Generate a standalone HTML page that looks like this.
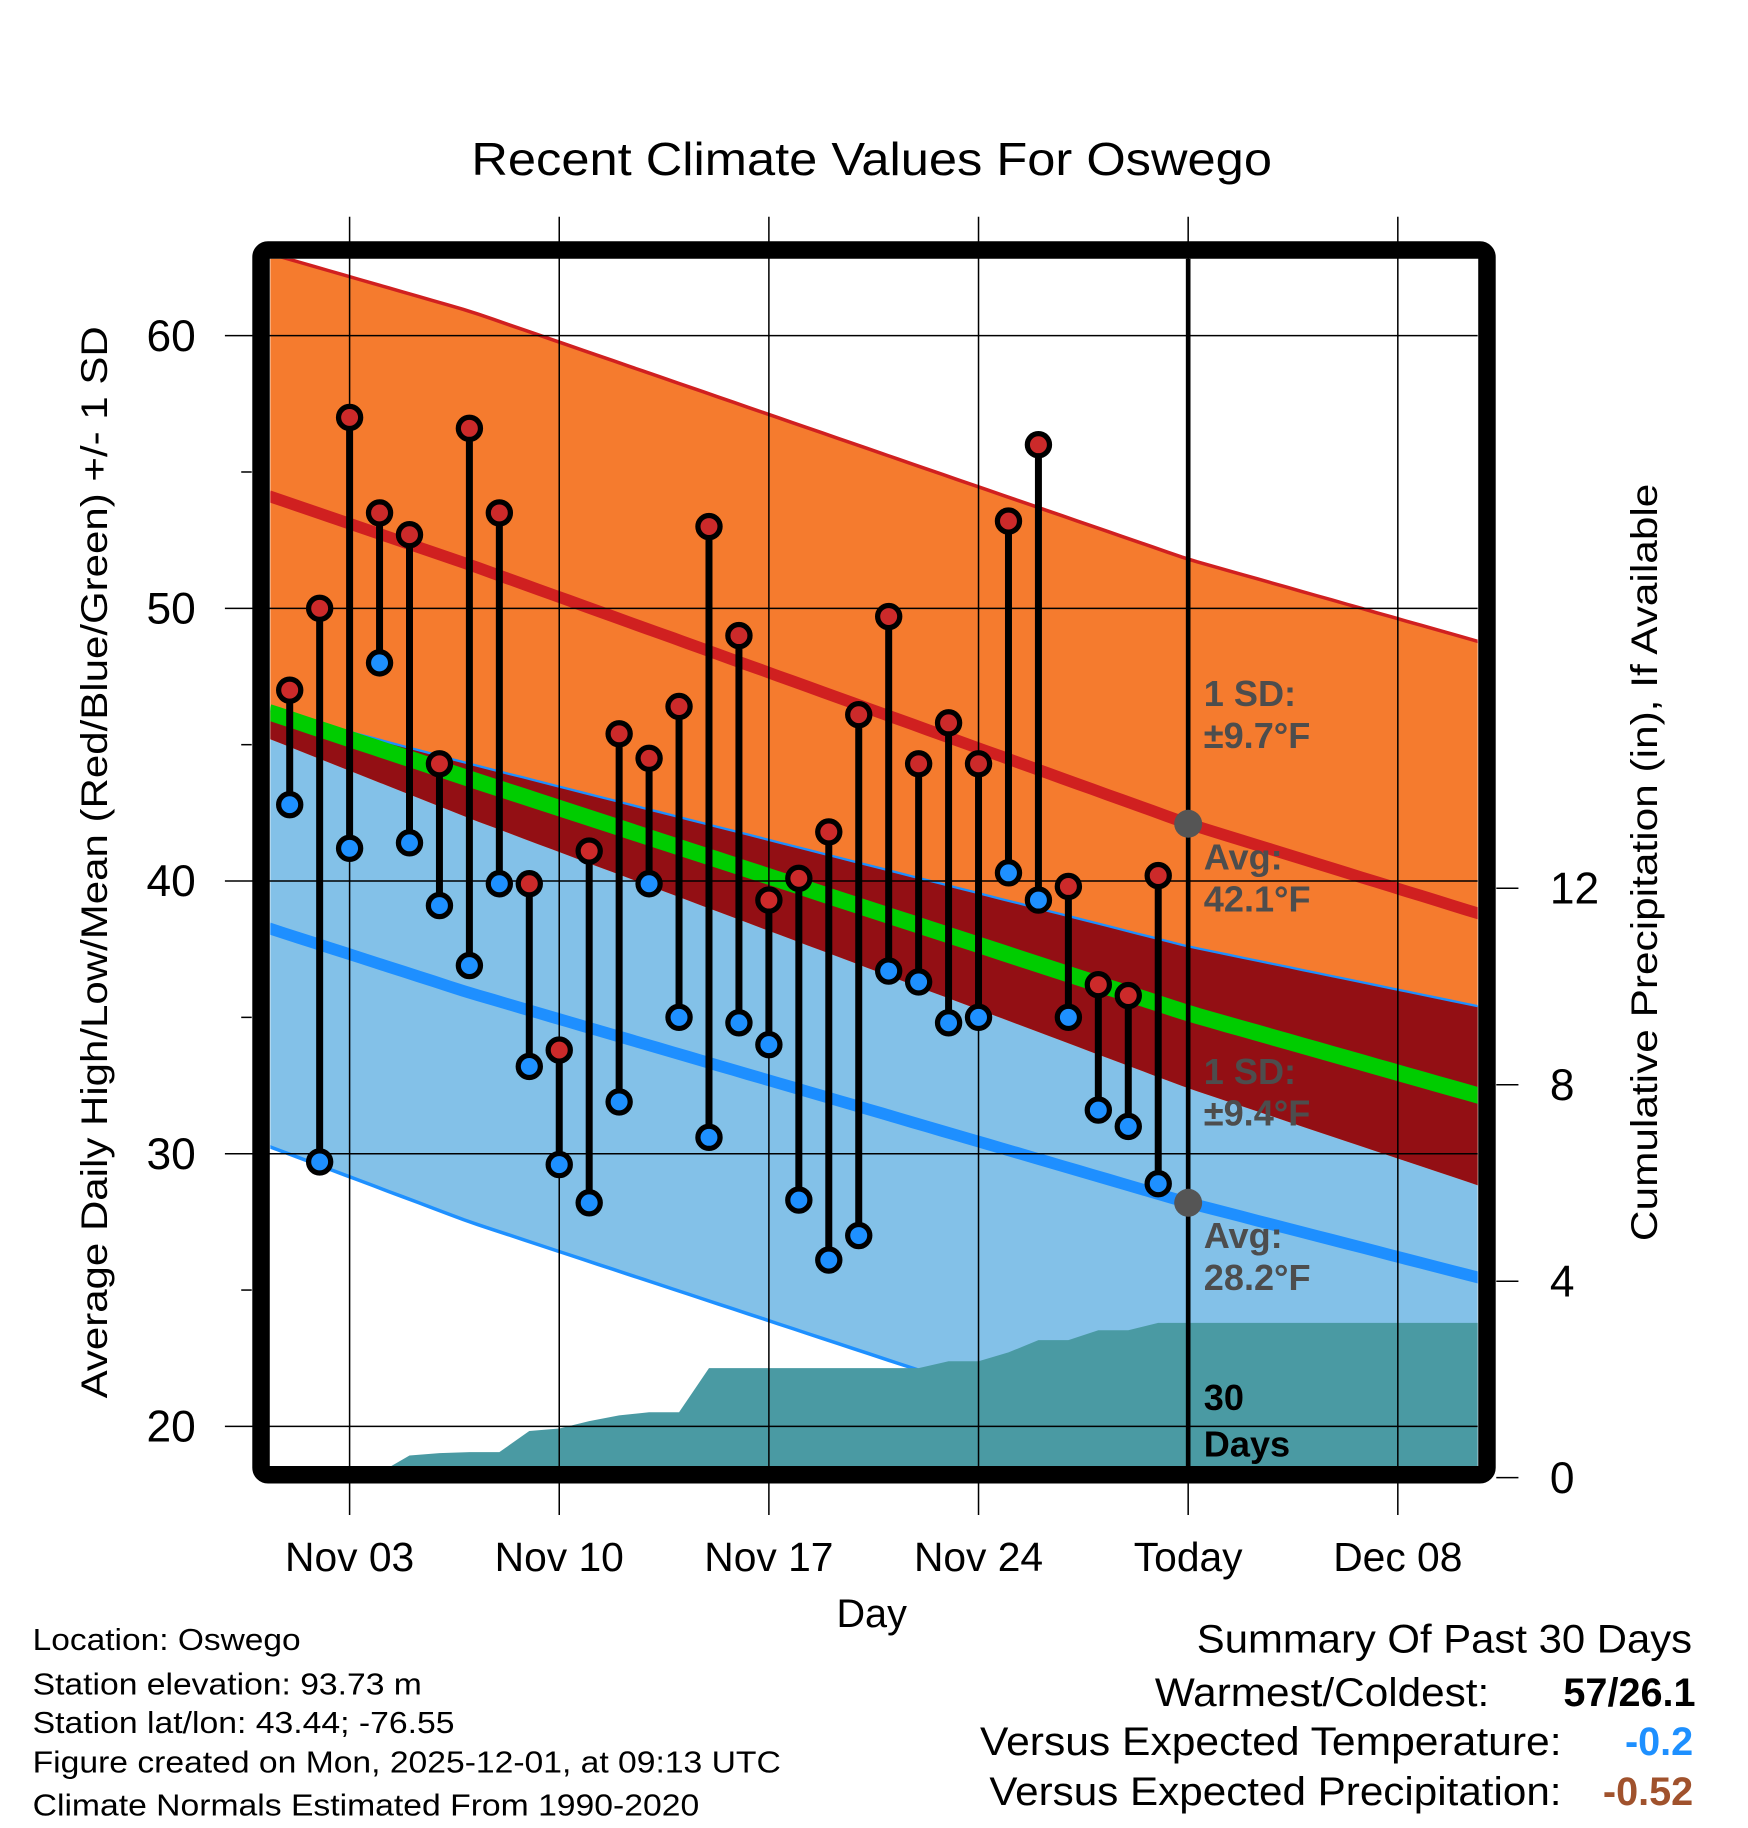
<!DOCTYPE html>
<html><head><meta charset="utf-8"><style>
html,body{margin:0;padding:0;background:#fff;}
svg{display:block;font-family:"Liberation Sans",sans-serif;}
</style></head><body>
<svg id="chart" width="1748" height="1828" viewBox="0 0 1500 1568.6" xmlns="http://www.w3.org/2000/svg">
<defs><clipPath id="plotclip"><rect x="232" y="222" width="1036" height="1036"/></clipPath></defs>
<g id="bands" clip-path="url(#plotclip)"></g>
<g id="precip"></g>
<g id="grid"></g>
<g id="marks"></g>
<g id="annot"></g>
<rect x="224" y="214.5" width="1052" height="1051" rx="6" fill="none" stroke="#000" stroke-width="15"/>
<text x="748" y="150" font-size="40" text-anchor="middle" textLength="687" lengthAdjust="spacingAndGlyphs">Recent Climate Values For Oswego</text>
<text transform="translate(92,740) rotate(-90)" font-size="32" text-anchor="middle" textLength="920" lengthAdjust="spacingAndGlyphs">Average Daily High/Low/Mean (Red/Blue/Green) +/- 1 SD</text>
<text transform="translate(1422,740) rotate(-90)" font-size="32" text-anchor="middle" textLength="650" lengthAdjust="spacingAndGlyphs">Cumulative Precipitation (in), If Available</text>
<text x="748" y="1396" font-size="34" text-anchor="middle">Day</text>
<g font-size="26">
<text x="28" y="1416" textLength="230" lengthAdjust="spacingAndGlyphs">Location: Oswego</text>
<text x="28" y="1454" textLength="334" lengthAdjust="spacingAndGlyphs">Station elevation: 93.73 m</text>
<text x="28" y="1487" textLength="362" lengthAdjust="spacingAndGlyphs">Station lat/lon: 43.44; -76.55</text>
<text x="28" y="1521" textLength="642" lengthAdjust="spacingAndGlyphs">Figure created on Mon, 2025-12-01, at 09:13 UTC</text>
<text x="28" y="1558" textLength="572" lengthAdjust="spacingAndGlyphs">Climate Normals Estimated From 1990-2020</text>
</g>
<g font-size="34">
<text x="1027" y="1418" textLength="425" lengthAdjust="spacingAndGlyphs">Summary Of Past 30 Days</text>
<text x="991" y="1464" textLength="287" lengthAdjust="spacingAndGlyphs">Warmest/Coldest:</text>
<text x="1455" y="1464" text-anchor="end" font-weight="bold">57/26.1</text>
<text x="841" y="1506" textLength="499" lengthAdjust="spacingAndGlyphs">Versus Expected Temperature:</text>
<text x="1453" y="1506" text-anchor="end" font-weight="bold" fill="#1e90ff">-0.2</text>
<text x="849" y="1549" textLength="491" lengthAdjust="spacingAndGlyphs">Versus Expected Precipitation:</text>
<text x="1453" y="1549" text-anchor="end" font-weight="bold" fill="#a0522d">-0.52</text>
</g>
</svg>
<script>
const highs=[47.0,50.0,57.0,53.5,52.7,44.3,56.6,53.5,39.9,33.8,41.1,45.4,44.5,46.4,53.0,49.0,39.3,40.1,41.8,46.1,49.7,44.3,45.8,44.3,53.2,56.0,39.8,36.2,35.8,40.2];
const lows=[42.8,29.7,41.2,48.0,41.4,39.1,36.9,39.9,33.2,29.6,28.2,31.9,39.9,35.0,30.6,34.8,34.0,28.3,26.1,27.0,36.7,36.3,34.8,35.0,40.3,39.3,35.0,31.6,31.0,28.9];
const precipCum=[0,0,0,0.1,0.45,0.5,0.52,0.52,0.95,1.0,1.15,1.27,1.33,1.33,2.23,2.23,2.23,2.23,2.23,2.23,2.23,2.23,2.37,2.37,2.55,2.8,2.8,3.0,3.0,3.15,3.15];
const normDays=[-0.65,6,30,40.6];
const normHigh=[54.1,51.6,42.1,38.5];
const sdHigh=[8.9,9.3,9.7,10.0];
const normLow=[38.25,35.9,28.2,25.2];
const sdLow=[8.0,8.4,9.4,10.0];
const yTicks=[20,30,40,50,60];
const y2Ticks=[0,4,8,12];
const xTickDays=[2,9,16,23,30,37];
const xTickLabels=["Nov 03","Nov 10","Nov 17","Nov 24","Today","Dec 08"];

const NS="http://www.w3.org/2000/svg";
const X0=232,X1=1268,Y0=222,Y1=1258;
const xd=d=>248.6+25.7*d;
const yv=v=>288+(60-v)*23.4;
const yp=p=>1268-42.15*p;
function mk(tag,attrs,parent){const e=document.createElementNS(NS,tag);for(const k in attrs)e.setAttribute(k,attrs[k]);parent.appendChild(e);return e;}
function interp(arr,d){for(let i=0;i<normDays.length-1;i++){if(d<=normDays[i+1]||i==normDays.length-2){const t=(d-normDays[i])/(normDays[i+1]-normDays[i]);return arr[i]+t*(arr[i+1]-arr[i]);}}}
const dStart=-0.7,dEnd=40.7;const samples=[];for(let d=dStart;d<=dEnd+0.001;d+=0.5)samples.push(Math.min(d,dEnd));
const ser=f=>samples.map(d=>[xd(d),yv(f(d))]);
const hiU=ser(d=>interp(normHigh,d)+interp(sdHigh,d)),hiL=ser(d=>interp(normHigh,d)-interp(sdHigh,d));
const loU=ser(d=>interp(normLow,d)+interp(sdLow,d)),loL=ser(d=>interp(normLow,d)-interp(sdLow,d));
const hiA=ser(d=>interp(normHigh,d)),loA=ser(d=>interp(normLow,d)),mA=ser(d=>(interp(normHigh,d)+interp(normLow,d))/2);
const pts=a=>a.map(p=>p[0].toFixed(1)+","+p[1].toFixed(1)).join(" ");
const band=(u,l)=>pts(u)+" "+pts(l.slice().reverse());
const bands=document.getElementById('bands');
let e;
e=mk('polygon',{points:band(loU,loL),fill:'#83c1e8'},bands);


e=mk('polygon',{points:band(hiU,hiL),fill:'#f57b2e'},bands);


e=mk('polygon',{points:band(loU,hiL),fill:'#930f14'},bands);


e=mk('polyline',{points:pts(hiU),fill:'none',stroke:'#d02020','stroke-width':3},bands);


e=mk('polyline',{points:pts(loU),fill:'none',stroke:'#1e90ff','stroke-width':2},bands);


e=mk('polyline',{points:pts(loL),fill:'none',stroke:'#1e90ff','stroke-width':3},bands);


e=mk('polyline',{points:pts(hiA),fill:'none',stroke:'#d02020','stroke-width':10},bands);


e=mk('polyline',{points:pts(loA),fill:'none',stroke:'#1e8fff','stroke-width':10},bands);


e=mk('polyline',{points:pts(mA),fill:'none',stroke:'#00cc00','stroke-width':14},bands);


const grid=document.getElementById('grid');
// precip
const pr=document.getElementById('precip');
let pp=[[X0,yp(0)]];precipCum.forEach((v,i)=>pp.push([xd(i),yp(v)]));pp.push([X1,yp(precipCum[precipCum.length-1])]);
let ps=pts(pp)+" "+X1+","+Y1+" "+X0+","+Y1;
e=mk('polygon',{points:ps,fill:'#4a9aa3'},pr);


// grid
yTicks.forEach(v=>{const y=yv(v);
 e=mk('line',{x1:193,x2:X1,y1:y,y2:y,stroke:'#000','stroke-width':1.3},grid);
 
 
 e=mk('text',{x:168,y:y+13,'font-size':38,'text-anchor':'end'},grid);e.textContent=v;
 
 
 if(v<60){e=mk('line',{x1:207,x2:216,y1:yv(v+5),y2:yv(v+5),stroke:'#000','stroke-width':1.3},grid);
 
 }
});
y2Ticks.forEach(v=>{const y=yp(v);
 e=mk('line',{x1:1284,x2:1303,y1:y,y2:y,stroke:'#000','stroke-width':1.3},grid);
 
 
 e=mk('text',{x:1330,y:y+13,'font-size':38},grid);e.textContent=v;
 
 
});
xTickDays.forEach((d,i)=>{const x=xd(d);
 e=mk('line',{x1:x,x2:x,y1:186,y2:1300,stroke:'#000','stroke-width':1.3},grid);
 
 
 e=mk('text',{x:x,y:1348,'font-size':35,'text-anchor':'middle'},grid);e.textContent=xTickLabels[i];
 
 
});
e=mk('line',{x1:xd(30),x2:xd(30),y1:Y0,y2:Y1,stroke:'#000','stroke-width':4},grid);


// marks
const mg=document.getElementById('marks');
highs.forEach((h,i)=>{const x=xd(i);
 e=mk('line',{x1:x,x2:x,y1:yv(h),y2:yv(lows[i]),stroke:'#000','stroke-width':6},mg);
 
 
});
highs.forEach((h,i)=>{const x=xd(i);
 e=mk('circle',{cx:x,cy:yv(h),r:9.5,fill:'#cc2a2a',stroke:'#000','stroke-width':4.5},mg);
 
 
 e=mk('circle',{cx:x,cy:yv(lows[i]),r:9.5,fill:'#1e90ff',stroke:'#000','stroke-width':4.5},mg);
 
 
});
// annotations
const an=document.getElementById('annot');
e=mk('circle',{cx:xd(30),cy:yv(interp(normHigh,30)),r:12,fill:'#555'},an);


e=mk('circle',{cx:xd(30),cy:yv(interp(normLow,30)),r:12,fill:'#555'},an);


const labs=[["1 SD:",606,"#4d4d4d"],["±9.7°F",642,"#4d4d4d"],["Avg:",746,"#4d4d4d"],["42.1°F",782,"#4d4d4d"],["1 SD:",930,"#4d4d4d"],["±9.4°F",966,"#4d4d4d"],["Avg:",1071,"#4d4d4d"],["28.2°F",1107,"#4d4d4d"],["30",1210,"#000"],["Days",1250,"#000"]];
labs.forEach(l=>{e=mk('text',{x:1033,y:l[1],'font-size':31,'font-weight':'bold',fill:l[2]},an);e.textContent=l[0];
 
 
});
</script>
</body></html>
